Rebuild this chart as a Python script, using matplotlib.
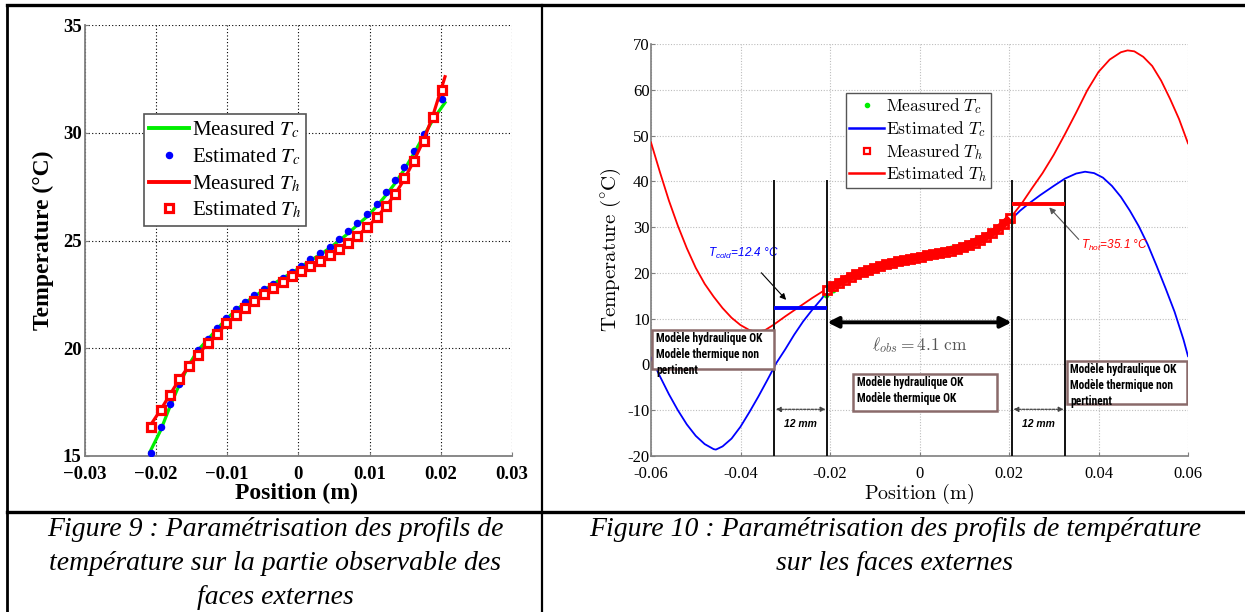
import matplotlib
matplotlib.use('Agg')
import matplotlib.pyplot as plt
from matplotlib.lines import Line2D
from matplotlib.patches import Rectangle
from matplotlib.font_manager import FontProperties, findfont

plt.rcParams['mathtext.fontset'] = 'stix'
plt.rcParams['mathtext.rm'] = 'Liberation Sans'
plt.rcParams['mathtext.it'] = 'Liberation Sans:italic'
plt.rcParams['mathtext.bf'] = 'Liberation Sans:bold'

# ---------------- Figure 9 data ----------------
pos9 = [-0.0206, -0.0193, -0.0180, -0.0167, -0.0154, -0.0141, -0.0127, -0.0114,
        -0.0101, -0.0088, -0.0075, -0.0062, -0.0048, -0.0035, -0.0022, -0.0009,
        0.0004, 0.0017, 0.0031, 0.0044, 0.0057, 0.0070, 0.0083, 0.0097,
        0.0110, 0.0123, 0.0136, 0.0149, 0.0162, 0.0176, 0.0189, 0.0202]
tc_est9 = [15.15, 16.33, 17.40, 18.33, 19.20, 19.90, 20.45, 20.94, 21.41, 21.80,
           22.14, 22.46, 22.74, 23.00, 23.28, 23.55, 23.82, 24.12, 24.40, 24.70,
           25.05, 25.42, 25.82, 26.22, 26.70, 27.24, 27.80, 28.42, 29.15, 29.92,
           30.70, 31.55]
th_est9 = [16.33, 17.12, 17.85, 18.55, 19.16, 19.70, 20.25, 20.68, 21.15, 21.52,
           21.86, 22.20, 22.50, 22.80, 23.07, 23.34, 23.58, 23.82, 24.07, 24.33,
           24.61, 24.89, 25.23, 25.63, 26.07, 26.60, 27.18, 27.88, 28.68, 29.64,
           30.74, 31.98]
pos9_meas = [-0.0208, -0.0193, -0.0180, -0.0167, -0.0154, -0.0141, -0.0127, -0.0114,
             -0.0101, -0.0088, -0.0075, -0.0062, -0.0048, -0.0035, -0.0022, -0.0009,
             0.0004, 0.0017, 0.0031, 0.0044, 0.0057, 0.0070, 0.0083, 0.0097,
             0.0110, 0.0123, 0.0136, 0.0149, 0.0162, 0.0176, 0.0189, 0.0206]
tc_meas9 = [15.2, 16.2, 17.3, 18.3, 19.2, 19.9, 20.4, 20.9, 21.35, 21.75, 22.1, 22.4,
            22.7, 22.98, 23.25, 23.5, 23.78, 24.07, 24.35, 24.65, 24.98, 25.33, 25.72,
            26.12, 26.58, 27.1, 27.66, 28.3, 29.02, 29.85, 30.6, 31.4]
th_meas9 = [16.4, 17.15, 17.85, 18.55, 19.15, 19.7, 20.22, 20.68, 21.12, 21.5, 21.85,
            22.18, 22.48, 22.78, 23.05, 23.32, 23.57, 23.82, 24.07, 24.33, 24.6, 24.9,
            25.22, 25.62, 26.06, 26.58, 27.15, 27.85, 28.68, 29.65, 30.8, 32.6]
xticks9 = [-0.03, -0.02, -0.01, 0, 0.01, 0.02, 0.03]
xticklabels9 = ['\u22120.03', '\u22120.02', '\u22120.01', '0', '0.01', '0.02', '0.03']
yticks9 = [15, 20, 25, 30, 35]

# ---------------- Figure 10 data ----------------
x_th10 = [-0.060, -0.058, -0.056, -0.054, -0.052, -0.050, -0.048, -0.046, -0.044,
          -0.042, -0.040, -0.038, -0.0364, -0.0345, -0.0327, -0.030, -0.027, -0.024,
          -0.0206, -0.015, -0.010, -0.005, 0.0, 0.005, 0.010, 0.015, 0.018, 0.0206,
          0.0228, 0.0250, 0.0275, 0.030, 0.0325, 0.035, 0.0375, 0.040, 0.0425, 0.045,
          0.0465, 0.048, 0.050, 0.052, 0.054, 0.056, 0.058, 0.060]
th_est10 = [48.5, 42.0, 35.8, 30.3, 25.4, 21.1, 17.6, 14.8, 12.3,
            10.2, 8.6, 7.5, 7.1, 7.5, 8.6, 10.5, 12.5, 14.5,
            16.6, 19.3, 21.2, 22.6, 23.5, 24.6, 26.0, 28.0, 29.8, 32.4,
            35.1, 38.3, 41.8, 45.8, 50.3, 55.0, 59.9, 63.9, 66.6, 68.2,
            68.6, 68.4, 67.2, 65.2, 62.0, 58.0, 53.6, 48.3]
x_tc10 = [-0.060, -0.058, -0.056, -0.054, -0.052, -0.050, -0.048, -0.046, -0.0455,
          -0.044, -0.042, -0.040, -0.038, -0.036, -0.034, -0.032, -0.030, -0.028,
          -0.026, -0.024, -0.022, -0.0206, -0.015, -0.010, -0.005, 0.0, 0.005, 0.010,
          0.015, 0.0206, 0.0225, 0.0245, 0.027, 0.030, 0.0325, 0.035, 0.037, 0.039,
          0.041, 0.043, 0.045, 0.047, 0.049, 0.051, 0.053, 0.055, 0.057, 0.059, 0.060]
tc_est10 = [1.5, -2.6, -6.5, -10.0, -13.1, -15.6, -17.4, -18.5, -18.6,
            -17.9, -16.2, -13.6, -10.4, -7.0, -3.4, 0.3, 3.3, 6.5,
            9.4, 11.9, 14.2, 16.0, 19.5, 21.4, 22.7, 23.7, 24.9, 26.4,
            28.6, 31.8, 33.6, 35.2, 37.0, 39.0, 40.6, 41.7, 42.1, 41.8,
            40.8, 39.0, 36.6, 33.6, 30.2, 26.2, 21.5, 16.6, 11.5, 5.4, 1.8]
xticks10 = [-0.06, -0.04, -0.02, 0, 0.02, 0.04, 0.06]
xticklabels10 = ['-0.06', '-0.04', '-0.02', '0', '0.02', '0.04', '0.06']
yticks10 = [-20, -10, 0, 10, 20, 30, 40, 50, 60, 70]
yticklabels10 = ['-20', '-10', '0', '10', '20', '30', '40', '50', '60', '70']
bounds10 = [-0.0325, -0.0206, 0.0206, 0.0326]
t_cold = 12.4
t_hot = 35.1
l_obs = 4.1
gap_mm = 12

W, H = 1245, 612
fig = plt.figure(figsize=(W / 100, H / 100), dpi=100)


def fx(px):
    return px / W


def fy(py):
    return 1 - py / H


# ---------------- table lines ----------------
for (x0, y0, x1, y1, lw) in [(7, 5, 1245, 5, 2.4), (7, 5, 7, 612, 2.0),
                             (542, 5, 542, 612, 1.6), (7, 511.5, 1245, 511.5, 2.4)]:
    fig.add_artist(Line2D([fx(x0), fx(x1)], [fy(y0), fy(y1)], color='black', lw=lw,
                          transform=fig.transFigure))

serif = 'Liberation Serif'
GRAY = '#7f7f7f'
DEG = '\u00b0'

# ---------------- Figure 9 ----------------
ax1 = fig.add_axes([fx(84.5), fy(456), 427.5 / W, 431 / H])
ax1.plot(pos9_meas, tc_meas9, color='#00ee00', lw=2.3, zorder=3)
ax1.plot(pos9, tc_est9, ls='none', marker='o', ms=4.4, color='#0000ff', mec='#0000ff', zorder=4)
ax1.plot(pos9_meas, th_meas9, color='#ff0000', lw=2.3, zorder=5)
ax1.plot(pos9, th_est9, ls='none', marker='s', ms=5.8, mfc='white', mec='#ff0000', mew=2.3, zorder=6)
ax1.set_xlim(-0.03, 0.03)
ax1.set_ylim(15, 35)
ax1.set_xticks(xticks9)
ax1.set_xticklabels(xticklabels9)
ax1.set_yticks(yticks9)
ax1.grid(True, color='black', ls=(0, (1, 2)), lw=0.8)
for s in ['top', 'right']:
    ax1.spines[s].set_visible(False)
for s in ['left', 'bottom']:
    ax1.spines[s].set_color(GRAY)
    ax1.spines[s].set_linewidth(1.3)
ax1.tick_params(direction='in', length=3, color=GRAY, pad=2)
ax1.tick_params(axis='x', pad=7)
for lab in ax1.get_xticklabels() + ax1.get_yticklabels():
    lab.set_fontfamily(serif)
    lab.set_fontweight('bold')
    lab.set_fontsize(13.5)
ax1.set_xlabel('Position (m)', fontfamily=serif, fontweight='bold', fontsize=17)
ax1.set_ylabel('Temperature (' + DEG + 'C)', fontfamily=serif, fontweight='bold', fontsize=17)
ax1.xaxis.set_label_coords(0.497, -0.062)
ax1.yaxis.set_label_coords(-0.072, 0.5)

h9 = [Line2D([], [], color='#00ee00', lw=2.8),
      Line2D([], [], ls='none', marker='o', ms=4.4, color='#0000ff'),
      Line2D([], [], color='#ff0000', lw=2.8),
      Line2D([], [], ls='none', marker='s', ms=5.8, mfc='white', mec='#ff0000', mew=2.3)]
l9 = ['Measured $T_c$', 'Estimated $T_c$', 'Measured $T_h$', 'Estimated $T_h$']
leg1 = ax1.legend(h9, l9, loc='upper left', bbox_to_anchor=(fx(144), fy(114)),
                  bbox_transform=fig.transFigure, borderaxespad=0,
                  prop=FontProperties(family=serif, size=15, math_fontfamily='stix'),
                  handlelength=1.9, handletextpad=0.15, labelspacing=0.3,
                  borderpad=0.25, fancybox=False, framealpha=1, edgecolor='#555555')
leg1.get_frame().set_linewidth(1.2)

# ---------------- Figure 10 ----------------
ax2 = fig.add_axes([fx(651), fy(456), 537 / W, 412 / H])
ax2.plot(x_th10, th_est10, color='#ff0000', lw=1.3, zorder=3)
ax2.plot(x_tc10, tc_est10, color='#0000ff', lw=1.3, zorder=3)
ax2.plot(pos9_meas, tc_meas9, ls='none', marker='o', ms=3.2, color='#00ee00', zorder=4)
ax2.plot(pos9, th_est9, ls='none', marker='s', ms=5.5, mfc='white', mec='#ff0000', mew=2, zorder=5)
ax2.plot(pos9, th_est9, color='#ff0000', lw=5.5, zorder=5, solid_capstyle='butt')
ax2.set_xlim(-0.06, 0.06)
ax2.set_ylim(-20, 70)
ax2.set_xticks(xticks10)
ax2.set_xticklabels(xticklabels10)
ax2.set_yticks(yticks10)
ax2.set_yticklabels(yticklabels10)
ax2.grid(True, color='#bdbdbd', ls=(0, (1, 1.5)), lw=0.8)
for s in ['top', 'right']:
    ax2.spines[s].set_visible(False)
for s in ['left', 'bottom']:
    ax2.spines[s].set_color(GRAY)
    ax2.spines[s].set_linewidth(1.2)
ax2.tick_params(direction='in', length=3, color=GRAY, pad=1)
ax2.tick_params(axis='x', pad=7)
for lab in ax2.get_xticklabels() + ax2.get_yticklabels():
    lab.set_fontfamily(serif)
    lab.set_fontsize(12)
ax2.set_xlabel(r'$\mathrm{Position\ (m)}$', fontsize=14.5, math_fontfamily='cm')
ax2.set_ylabel(r'$\mathrm{Temperature\ (^{\circ}C)}$', fontsize=15, math_fontfamily='cm')
ax2.xaxis.set_label_coords(0.5, -0.062)
ax2.yaxis.set_label_coords(-0.052, 0.5)

# observation window lines
for b in bounds10:
    ax2.plot([b, b], [-20, 40], color='#111111', lw=1.4, zorder=6)
ax2.plot([bounds10[0], bounds10[1]], [t_cold, t_cold], color='#0000ff', lw=2.8, zorder=7,
         solid_capstyle='butt')
ax2.plot([bounds10[2], bounds10[3]], [t_hot, t_hot], color='#ff0000', lw=2.8, zorder=7,
         solid_capstyle='butt')

# central double arrow
ax2.annotate('', xy=(bounds10[2], 9.2), xytext=(bounds10[1], 9.2),
             arrowprops=dict(arrowstyle='<|-|>', lw=2.8, mutation_scale=16, color='black',
                             shrinkA=0, shrinkB=0), zorder=8)
ax2.text(0.0, 4.2, r'$\ell_{obs} = %.1f\ \mathrm{cm}$' % l_obs, ha='center', va='center',
         fontsize=12.5, color='#555555', math_fontfamily='cm')

# 12 mm arrows
for (a, b) in [(bounds10[0], bounds10[1]), (bounds10[2], bounds10[3])]:
    ax2.annotate('', xy=(b - 0.0004, -9.8), xytext=(a + 0.0004, -9.8),
                 arrowprops=dict(arrowstyle='<|-|>', lw=0.9, mutation_scale=7, color='#444444',
                                 shrinkA=0, shrinkB=0, linestyle=(0, (2, 1))))
    ax2.text((a + b) / 2, -13.1, '%d mm' % gap_mm, ha='center', va='center', fontsize=7.5,
             fontfamily='Liberation Sans', fontweight='bold', fontstyle='italic')

# T_cold / T_hot annotations
ax2.annotate(r'$T_{cold}$' + '=%.1f ' % t_cold + DEG + 'C', xy=(-0.0298, 14.1),
             xytext=(-0.0473, 24.3),
             fontsize=8.5, color='#0000ff', fontfamily='Liberation Sans', fontstyle='italic',
             math_fontfamily='custom', ha='left', va='center',
             arrowprops=dict(arrowstyle='-|>', lw=0.8, color='black', mutation_scale=9,
                             shrinkA=9, shrinkB=0, relpos=(0.6, 0.0)))
ax2.annotate(r'$T_{hot}$' + '=%.1f ' % t_hot + DEG + 'C', xy=(0.029, 34.3),
             xytext=(0.0362, 26.0),
             fontsize=8.5, color='#ff0000', fontfamily='Liberation Sans', fontstyle='italic',
             math_fontfamily='custom', ha='left', va='center',
             arrowprops=dict(arrowstyle='-|>', lw=0.8, color='#555555', mutation_scale=9,
                             shrinkA=0, shrinkB=0, relpos=(0.0, 0.7)))

# zone boxes
box_font, box_size = 'Liberation Sans', 7.2
for cand in ['Liberation Sans Narrow', 'Roboto Condensed', 'Open Sans Condensed',
             'DejaVu Sans Condensed']:
    try:
        path = findfont(FontProperties(family=cand, weight='bold'), fallback_to_default=False)
        if 'arrow' in path.lower() or 'ondensed' in path.lower():
            box_font, box_size = cand, 8.3
            break
    except Exception:
        pass
BROWN = '#8a6a6a'
boxes = [((-0.0597, -0.9), (0.0272, 8.4), (-0.0589, 7.0),
          'Mod\u00e8le hydraulique OK\nMod\u00e8le thermique non\npertinent'),
         ((-0.0148, -10.2), (0.0321, 8.2), (-0.0139, -2.6),
          'Mod\u00e8le hydraulique OK\nMod\u00e8le thermique OK'),
         ((0.0330, -8.6), (0.0267, 9.3), (0.0337, 0.3),
          'Mod\u00e8le hydraulique OK\nMod\u00e8le thermique non\npertinent')]
for (xy, (w, h), tpos, txt) in boxes:
    ax2.add_patch(Rectangle(xy, w, h, facecolor='white', edgecolor=BROWN, lw=1.8, zorder=9))
    ax2.text(tpos[0], tpos[1], txt, ha='left', va='top', fontsize=box_size,
             fontfamily=box_font, fontweight='bold', linespacing=1.3, zorder=10)

h10 = [Line2D([], [], ls='none', marker='o', ms=3, color='#00ee00'),
       Line2D([], [], color='#0000ff', lw=1.8),
       Line2D([], [], ls='none', marker='s', ms=4, mfc='white', mec='#ff0000', mew=1.6),
       Line2D([], [], color='#ff0000', lw=1.8)]
l10 = [r'$\mathrm{Measured}\ T_c$', r'$\mathrm{Estimated}\ T_c$',
       r'$\mathrm{Measured}\ T_h$', r'$\mathrm{Estimated}\ T_h$']
leg2 = ax2.legend(h10, l10, loc='upper left', bbox_to_anchor=(fx(846), fy(93)),
                  bbox_transform=fig.transFigure, borderaxespad=0,
                  prop=FontProperties(family=serif, size=12.5, math_fontfamily='cm'),
                  handlelength=2.0, handletextpad=0.1, labelspacing=0.15,
                  borderpad=0.2, fancybox=False, framealpha=1, edgecolor='#555555')
leg2.get_frame().set_linewidth(1.0)
leg2.set_zorder(11)

# ---------------- captions ----------------
cap_kw = dict(fontfamily=serif, fontstyle='italic', fontsize=20, ha='center', va='center',
              transform=fig.transFigure)
fig.text(fx(275), fy(530), 'Figure 9 : Param\u00e9trisation des profils de', **cap_kw)
fig.text(fx(275), fy(564), 'temp\u00e9rature sur la partie observable des', **cap_kw)
fig.text(fx(275), fy(598), 'faces externes', **cap_kw)
fig.text(fx(895), fy(530), 'Figure 10 : Param\u00e9trisation des profils de temp\u00e9rature', **cap_kw)
fig.text(fx(895), fy(564), 'sur les faces externes', **cap_kw)

fig.savefig('out.png', dpi=100)
